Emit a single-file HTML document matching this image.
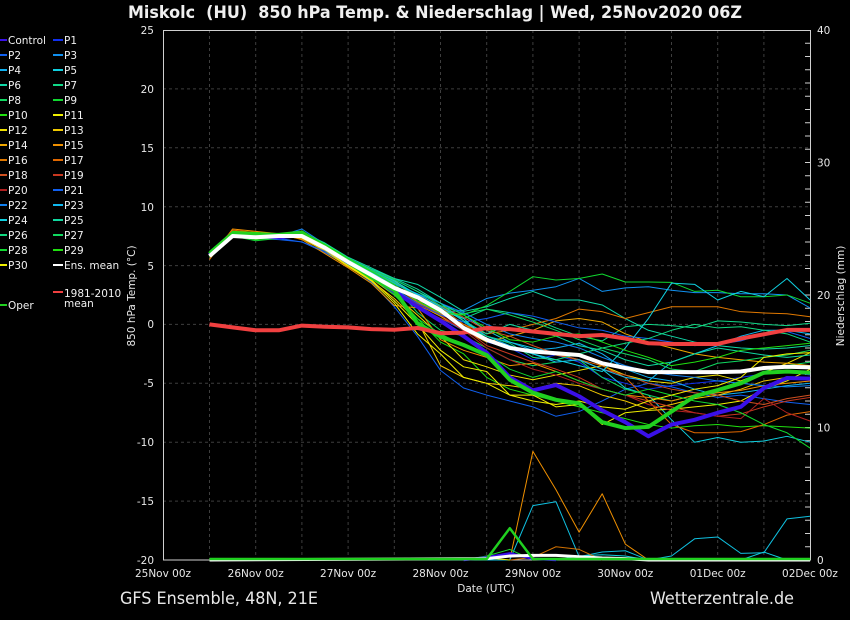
<!DOCTYPE html>
<html><head><meta charset="utf-8">
<style>html,body{margin:0;padding:0;background:#000;}svg{display:block}</style>
</head><body>
<svg width="850" height="620" viewBox="0 0 850 620" xmlns="http://www.w3.org/2000/svg" font-family="'DejaVu Sans','Liberation Sans',sans-serif">
<rect width="850" height="620" fill="#000"/>
<text x="128" y="18" font-size="16.5" font-weight="bold" fill="#f0f0f0" style="white-space:pre" xml:space="preserve" textLength="614" lengthAdjust="spacingAndGlyphs">Miskolc  (HU)  850 hPa Temp. &amp; Niederschlag | Wed, 25Nov2020 06Z</text>

<!-- grid -->
<g stroke="#3e3e3e" stroke-width="1" stroke-dasharray="3,3" fill="none">
<path d="M163 88.9H810M163 147.8H810M163 206.7H810M163 265.6H810M163 324.4H810M163 383.3H810M163 442.2H810M163 501.1H810"/>
<path d="M209.5 30V560M255.7 30V560M301.9 30V560M348.1 30V560M394.3 30V560M440.5 30V560M486.7 30V560M532.9 30V560M579.1 30V560M625.3 30V560M671.5 30V560M717.7 30V560M763.9 30V560"/>
</g>

<!-- frame -->
<rect x="163.5" y="30.5" width="647" height="529.5" fill="none" stroke="#d0d0d0" stroke-width="1"/>
<path stroke="#d0d0d0" stroke-width="1" fill="none" d="M805 30.5H811M805 43.25H811M805 56.5H811M805 69.75H811M805 83H811M805 96.25H811M805 109.5H811M805 122.75H811M805 136H811M805 149.25H811M805 162.5H811M805 175.75H811M805 189H811M805 202.25H811M805 215.5H811M805 228.75H811M805 242H811M805 255.25H811M805 268.5H811M805 281.75H811M805 295H811M805 308.25H811M805 321.5H811M805 334.75H811M805 348H811M805 361.25H811M805 374.5H811M805 387.75H811M805 401H811M805 414.25H811M805 427.5H811M805 440.75H811M805 454H811M805 467.25H811M805 480.5H811M805 493.75H811M805 507H811M805 520.25H811M805 533.5H811M805 546.75H811"/>

<!-- left tick labels -->
<g font-size="10.5" fill="#e8e8e8" text-anchor="end">
<text x="154" y="34">25</text>
<text x="154" y="93">20</text>
<text x="154" y="152">15</text>
<text x="154" y="211">10</text>
<text x="154" y="270">5</text>
<text x="154" y="328">0</text>
<text x="154" y="387">-5</text>
<text x="154" y="446">-10</text>
<text x="154" y="505">-15</text>
<text x="154" y="564">-20</text>
</g>
<g font-size="10.5" fill="#e8e8e8" text-anchor="start">
<text x="817" y="34">40</text>
<text x="817" y="166.5">30</text>
<text x="817" y="299">20</text>
<text x="817" y="431.5">10</text>
<text x="817" y="564">0</text>
</g>
<g font-size="10.5" fill="#e8e8e8" text-anchor="middle">
<text x="163" y="577">25Nov 00z</text>
<text x="255.7" y="577">26Nov 00z</text>
<text x="348.1" y="577">27Nov 00z</text>
<text x="440.5" y="577">28Nov 00z</text>
<text x="532.9" y="577">29Nov 00z</text>
<text x="625.3" y="577">30Nov 00z</text>
<text x="717.7" y="577">01Dec 00z</text>
<text x="810" y="577">02Dec 00z</text>
<text x="486" y="592">Date (UTC)</text>
<text transform="translate(135 296) rotate(-90)">850 hPa Temp. (°C)</text>
<text transform="translate(844 296) rotate(-90)">Niederschlag (mm)</text>
</g>

<!-- precipitation -->
<g transform="translate(209.5 560) scale(23.1 -13.25)" fill="none" stroke-linejoin="round">
<polyline vector-effect="non-scaling-stroke" stroke="#f09000" stroke-width="1" points="0,0 13,0 14,8.2 15,5.3 16,2.1 17,5 18,1.2 19,0 26,0"/>
<polyline vector-effect="non-scaling-stroke" stroke="#10c0e0" stroke-width="1" points="0,0 13,0 14,4.1 15,4.4 16,0.25 17,0.6 18,0.7 19,0 20,0.3 21,1.6 22,1.74 23,0.5 24,0.55 25,3.1 26,3.3"/>
<polyline vector-effect="non-scaling-stroke" stroke="#10d0e0" stroke-width="1" points="15,0 16,0.3 17,0.4 18,0.3 19,0 23,0 24,0.6 25,0 26,0"/>
<polyline vector-effect="non-scaling-stroke" stroke="#d07000" stroke-width="1" points="13,0 14,0.2 15,1 16,0.8 17,0"/>
<polyline vector-effect="non-scaling-stroke" stroke="#20d830" stroke-width="1" points="11,0 12,0.3 13,0.8 14,0"/>
<polyline vector-effect="non-scaling-stroke" stroke="#f0f000" stroke-width="1" points="11,0 12,0.15 13,0"/>
<polyline vector-effect="non-scaling-stroke" stroke="#3a10e8" stroke-width="2.5" points="11,0 12,0.2 13,0.5 14,0.1 15,0"/>
<polyline vector-effect="non-scaling-stroke" stroke="#ffffff" stroke-width="3" points="0,0 12,0.1 13,0.3 14,0.35 15,0.35 16,0.25 17,0.15 18,0.1 19,0 26,0"/>
<polyline vector-effect="non-scaling-stroke" stroke="#20d020" stroke-width="2.5" points="0,0.08 12,0.08 13,2.4 14,0.08 26,0.08"/>
</g>

<!-- temperature members -->
<g transform="translate(209.5 324.4) scale(23.1 -11.78)" fill="none" stroke-linejoin="round" stroke-width="1">
<polyline vector-effect="non-scaling-stroke" stroke="#1030f0" points="0,6 1,7.8 2,7.6 3,7.4 4,7.8 5,6.4 6,5.2 7,4 8,2.8 9,1.5 10,0.5 11,-0.5 12,-1.5 13,-2 14,-3 15,-2.6 16,-3.2 17,-4.5 18,-5 19,-5.5 20,-5.2 21,-5 22,-4.8 23,-4.5 24,-4.2 25,-4 26,-4.3"/>
<polyline vector-effect="non-scaling-stroke" stroke="#1060f0" points="0,5.9 1,7.5 2,7.3 3,7.2 4,7 5,6.1 6,5 7,3.6 8,1.5 9,-1 10,-3.9 11,-5.4 12,-6 13,-6.5 14,-7 15,-7.8 16,-7.4 17,-6.5 18,-5.5 19,-5 20,-5.3 21,-5.8 22,-6.2 23,-6 24,-6.3 25,-6.6 26,-6.8"/>
<polyline vector-effect="non-scaling-stroke" stroke="#1090f0" points="0,5.8 1,7.6 2,7.5 3,7.4 4,7.6 5,6.5 6,5.2 7,4.1 8,2.8 9,1.5 10,1 11,1.2 12,2.2 13,2.65 14,2.9 15,3.2 16,3.9 17,2.8 18,3.1 19,3.2 20,2.9 21,2.7 22,2.7 23,2.6 24,2.6 25,2.5 26,1.4"/>
<polyline vector-effect="non-scaling-stroke" stroke="#10b0f0" points="0,5.7 1,7.4 2,7.5 3,7.5 4,7.7 5,6.6 6,5.4 7,4.3 8,3.2 9,2 10,1 11,0.2 12,-1 13,-1.5 14,-2.2 15,-2 16,-1.6 17,-2.5 18,-3.8 19,-4.5 20,-4.8 21,-5.5 22,-6 23,-5.8 24,-5.5 25,-5.2 26,-5"/>
<polyline vector-effect="non-scaling-stroke" stroke="#10d0e0" points="0,5.6 1,7.5 2,7.6 3,7.6 4,7.9 5,6.8 6,5.5 7,4.6 8,3.8 9,2.8 10,1.8 11,0.8 12,-0.5 13,-1.5 14,-2 15,-2.5 16,-3 17,-3.8 18,-5.4 19,-6 20,-8.1 21,-10 22,-9.6 23,-10 24,-9.9 25,-9.5 26,-10"/>
<polyline vector-effect="non-scaling-stroke" stroke="#10d8a8" points="0,6.1 1,7.9 2,7.7 3,7.6 4,7.8 5,6.9 6,5.6 7,4.7 8,3.9 9,3.4 10,2.3 11,1.1 12,1.5 13,2.2 14,2.8 15,2.07 16,2.07 17,1.65 18,0.5 19,-0.5 20,-1 21,-1.5 22,-1.8 23,-2 24,-2.1 25,-2 26,-1.8"/>
<polyline vector-effect="non-scaling-stroke" stroke="#10d888" points="0,5.9 1,7.7 2,7.6 3,7.5 4,7.8 5,6.7 6,5.5 7,4.5 8,3.5 9,2.4 10,1.5 11,0.5 12,1.3 13,1 14,0.5 15,-0.3 16,-1 17,-1.4 18,-0.2 19,0 20,-0.1 21,-0.3 22,0.3 23,0.2 24,0 25,-0.1 26,0.1"/>
<polyline vector-effect="non-scaling-stroke" stroke="#10d860" points="0,5.8 1,7.6 2,7.4 3,7.5 4,7.6 5,6.6 6,5.4 7,4.4 8,3.3 9,1 10,-0.5 11,-1 12,-2 13,-3 14,-3.5 15,-3.2 16,-3 17,-4.5 18,-5.5 19,-6 20,-6.5 21,-6 22,-5.5 23,-4.8 24,-4 25,-3.5 26,-3.2"/>
<polyline vector-effect="non-scaling-stroke" stroke="#10d830" points="0,6.2 1,7.9 2,7.8 3,7.6 4,7.9 5,6.7 6,5.4 7,4.2 8,3 9,1.8 10,1.2 11,0.8 12,1.6 13,2.8 14,4.05 15,3.77 16,3.9 17,4.28 18,3.6 19,3.6 20,3.57 21,2.8 22,2.9 23,2.35 24,2.35 25,2.5 26,1.8"/>
<polyline vector-effect="non-scaling-stroke" stroke="#20e010" points="0,5.8 1,7.6 2,7.2 3,7.4 4,7.6 5,6.4 6,5.2 7,4 8,2.6 9,0.5 10,-1.5 11,-2.5 12,-4.5 13,-5.5 14,-6 15,-6.5 16,-7 17,-7.5 18,-8 19,-8.5 20,-8.8 21,-8.6 22,-8.5 23,-8.7 24,-8.6 25,-8.7 26,-8.8"/>
<polyline vector-effect="non-scaling-stroke" stroke="#f0f000" points="0,5.7 1,7.5 2,7.5 3,7.5 4,7.4 5,6.3 6,5 7,3.8 8,2 9,0 10,-2.2 11,-3.6 12,-4 13,-6 14,-6 15,-7 16,-6.8 17,-8.5 18,-7.5 19,-7.3 20,-7.2 21,-7 22,-6.8 23,-6.5 24,-5.5 25,-4.8 26,-3.8"/>
<polyline vector-effect="non-scaling-stroke" stroke="#f0e000" points="0,5.9 1,7.6 2,7.5 3,7.6 4,7.5 5,6.3 6,5 7,3.9 8,2.5 9,0.8 10,-1 11,-3 12,-3.6 13,-4.3 14,-4.7 15,-4.3 16,-3.9 17,-3.5 18,-4.3 19,-4.8 20,-5 21,-4.5 22,-4.3 23,-4.8 24,-4.1 25,-3.3 26,-2.4"/>
<polyline vector-effect="non-scaling-stroke" stroke="#f0c800" points="0,5.8 1,7.7 2,7.6 3,7.5 4,7.3 5,6.2 6,4.9 7,3.7 8,2.2 9,0.3 10,-3.5 11,-4.5 12,-5 13,-5.2 14,-5.5 15,-5 16,-5.2 17,-6 18,-6.5 19,-7.2 20,-6.8 21,-6.3 22,-6 23,-5.5 24,-4.8 25,-4.5 26,-4.5"/>
<polyline vector-effect="non-scaling-stroke" stroke="#f0a800" points="0,5.7 1,7.6 2,7.5 3,7.4 4,7.5 5,6.4 6,5.1 7,4 8,2.9 9,1.7 10,0.7 11,-0.5 12,-1.5 13,-1 14,-0.5 15,0.3 16,0.5 17,0.2 18,-0.8 19,-1.5 20,-2 21,-2.5 22,-2.8 23,-3 24,-3.2 25,-3.3 26,-3.5"/>
<polyline vector-effect="non-scaling-stroke" stroke="#f09000" points="0,5.5 1,8.1 2,7.9 3,7.7 4,7.2 5,6 6,4.8 7,3.5 8,1.6 9,1.4 10,-1.3 11,-2.2 12,-2.8 13,-3.5 14,-3.3 15,-4 16,-4.8 17,-5.5 18,-6 19,-6.2 20,-6.5 21,-6 22,-5.8 23,-5.6 24,-5.2 25,-5 26,-4.8"/>
<polyline vector-effect="non-scaling-stroke" stroke="#e07800" points="0,5.8 1,7.9 2,7.8 3,7.6 4,7.5 5,6.6 6,5.4 7,4.3 8,3.2 9,1.9 10,0.9 11,0 12,-0.8 13,-0.5 14,0 15,0.5 16,1.3 17,1.08 18,0.5 19,1 20,1.5 21,1.5 22,1.5 23,1.08 24,0.97 25,0.9 26,0.65"/>
<polyline vector-effect="non-scaling-stroke" stroke="#e06800" points="0,5.9 1,8 2,7.8 3,7.6 4,7.6 5,6.7 6,5.6 7,4.6 8,3.8 9,2 10,1.5 11,0 12,-1.2 13,-2 14,-2.3 15,-2.6 16,-3 17,-3.5 18,-4.5 19,-6.5 20,-8.5 21,-9.2 22,-9.2 23,-9.1 24,-8.5 25,-7.7 26,-7.4"/>
<polyline vector-effect="non-scaling-stroke" stroke="#d05020" points="0,6 1,7.9 2,7.7 3,7.5 4,7.7 5,6.8 6,5.6 7,4.5 8,3.6 9,2.5 10,1.6 11,0.6 12,-0.5 13,-1 14,-1.8 15,-2.5 16,-3 17,-3.8 18,-4.3 19,-5 20,-5.5 21,-5.8 22,-6 23,-6.5 24,-6.8 25,-6.3 26,-6"/>
<polyline vector-effect="non-scaling-stroke" stroke="#c83820" points="0,5.6 1,7.8 2,7.7 3,7.5 4,7.4 5,6.5 6,5.3 7,4.2 8,3.1 9,1.5 10,0.5 11,-0.3 12,-1.8 13,-2.5 14,-3.2 15,-3.8 16,-4.5 17,-5.5 18,-6 19,-6.5 20,-7 21,-7.5 22,-7.8 23,-7.6 24,-7 25,-6.5 26,-6.2"/>
<polyline vector-effect="non-scaling-stroke" stroke="#b02020" points="0,5.7 1,7.7 2,7.6 3,7.5 4,7.5 5,6.5 6,5.3 7,4.1 8,3 9,1.7 10,0.8 11,-0.5 12,-2 13,-3 14,-3.8 15,-4.3 16,-5 17,-5.5 18,-6 19,-6.8 20,-7.3 21,-7.5 22,-7.8 23,-8 24,-6.3 25,-7.5 26,-8.2"/>
<polyline vector-effect="non-scaling-stroke" stroke="#1060f0" points="0,5.8 1,7.5 2,7.4 3,7.3 4,7 5,6.2 6,5.1 7,4 8,3 9,1.8 10,0.8 11,0.2 12,0.5 13,1 14,0.7 15,0.2 16,-0.3 17,-0.5 18,-1 19,-1.2 20,-1.5 21,-1.8 22,-1.7 23,-1.4 24,-0.8 25,-0.6 26,-1.2"/>
<polyline vector-effect="non-scaling-stroke" stroke="#1080f0" points="0,6 1,7.6 2,7.5 3,7.5 4,8.1 5,6.8 6,5.5 7,4.4 8,3.4 9,2.6 10,1.8 11,1 12,0 13,-0.8 14,-1.2 15,-1.5 16,-2 17,-2.8 18,-3.5 19,-4 20,-4.3 21,-4.5 22,-4.8 23,-5 24,-5.2 25,-5.3 26,-5.2"/>
<polyline vector-effect="non-scaling-stroke" stroke="#10b8f0" points="0,5.9 1,7.7 2,7.6 3,7.5 4,7.6 5,6.7 6,5.4 7,4.4 8,3.5 9,2.6 10,1.5 11,0.3 12,-1 13,-1.8 14,-2.5 15,-3.2 16,-3 17,-3.8 18,-4.5 19,-4.8 20,-3.2 21,-2.5 22,-1.8 23,-1 24,-0.5 25,-0.5 26,-0.8"/>
<polyline vector-effect="non-scaling-stroke" stroke="#10d0e0" points="0,5.8 1,7.6 2,7.5 3,7.4 4,7.7 5,6.8 6,5.6 7,4.6 8,3.7 9,2.5 10,1.2 11,0.5 12,-1.3 13,-2 14,-2.5 15,-3 16,-3.5 17,-4 18,-2 19,0.5 20,3.5 21,3.4 22,2.07 23,2.8 24,2.35 25,3.9 26,2.07"/>
<polyline vector-effect="non-scaling-stroke" stroke="#10d8a0" points="0,6.1 1,7.8 2,7.7 3,7.6 4,7.8 5,6.9 6,5.7 7,4.8 8,3.9 9,3 10,1.8 11,0.3 12,-0.8 13,0 14,-0.5 15,-1 16,-1.8 17,-2.2 18,-3 19,-3.5 20,-3.2 21,-2.5 22,-2 23,-2.3 24,-2.6 25,-2.8 26,-2.6"/>
<polyline vector-effect="non-scaling-stroke" stroke="#10d880" points="0,5.9 1,7.7 2,7.6 3,7.5 4,7.7 5,6.7 6,5.5 7,4.5 8,3.6 9,2.3 10,1.4 11,-0.2 12,-1 13,-1.6 14,-2.8 15,-3 16,-2.5 17,-2 18,-1.6 19,-1.2 20,-0.5 21,0 22,-0.3 23,-0.2 24,-0.5 25,-0.8 26,-1.5"/>
<polyline vector-effect="non-scaling-stroke" stroke="#10d860" points="0,6 1,7.8 2,7.6 3,7.6 4,7.9 5,6.8 6,5.6 7,4.6 8,3.8 9,2.8 10,1.6 11,0.9 12,1.3 13,0.8 14,0.2 15,-0.5 16,-1.3 17,-2 18,-2.5 19,-3 20,-3.8 21,-4 22,-3.3 23,-3.1 24,-2.8 25,-2.6 26,-2.2"/>
<polyline vector-effect="non-scaling-stroke" stroke="#10d830" points="0,5.7 1,7.5 2,7.1 3,7.3 4,7.5 5,6.4 6,5.2 7,4 8,2.5 9,0.5 10,-0.8 11,-1.8 12,-2.5 13,-3.8 14,-4.5 15,-4 16,-4.8 17,-5.5 18,-6 19,-5.5 20,-6 21,-6.5 22,-6.8 23,-7.5 24,-8.5 25,-9.2 26,-10.5"/>
<polyline vector-effect="non-scaling-stroke" stroke="#20e010" points="0,6.1 1,7.9 2,7.8 3,7.7 4,7.8 5,6.8 6,5.6 7,4.5 8,3.4 9,2 10,1 11,0.8 12,-0.3 13,-1.3 14,-1.5 15,-1 16,-0.8 17,-1.5 18,-2.2 19,-2.8 20,-3.5 21,-3.2 22,-2.8 23,-2.2 24,-2 25,-1.8 26,-1.6"/>
<polyline vector-effect="non-scaling-stroke" stroke="#f0f000" points="0,5.8 1,7.6 2,7.5 3,7.5 4,7.4 5,6.3 6,5 7,3.7 8,1.8 9,-0.8 10,-2.5 11,-4.5 12,-5 13,-6 14,-6.5 15,-6.8 16,-6.5 17,-7 18,-7.2 19,-6.5 20,-6 21,-5.5 22,-5.2 23,-4.5 24,-2.8 25,-2.5 26,-2.4"/>

<!-- control, oper, climatology, mean -->
<polyline vector-effect="non-scaling-stroke" stroke="#3a10e8" stroke-width="4" points="0,5.9 1,7.6 2,7.5 3,7.4 4,7.6 5,6.5 6,5.3 7,4.1 8,2.8 9,1.5 10,0.3 11,-1 12,-2.4 13,-4.5 14,-5.6 15,-5.15 16,-6.1 17,-7.3 18,-8.3 19,-9.5 20,-8.5 21,-8.1 22,-7.5 23,-7 24,-5.4 25,-4.55 26,-4.6"/>
<polyline vector-effect="non-scaling-stroke" stroke="#20d020" stroke-width="4" points="0,6 1,7.7 2,7.6 3,7.6 4,7.8 5,6.6 6,5.3 7,4 8,2.9 9,0.1 10,-1.04 11,-1.75 12,-2.6 13,-4.7 14,-5.8 15,-6.4 16,-6.7 17,-8.3 18,-8.8 19,-8.7 20,-7.4 21,-6.1 22,-5.57 23,-5 24,-4.1 25,-4 26,-4.1"/>
<polyline vector-effect="non-scaling-stroke" stroke="#f04040" stroke-width="4" points="0,0 1,-0.25 2,-0.5 3,-0.5 4,-0.1 5,-0.2 6,-0.25 7,-0.4 8,-0.45 9,-0.3 10,-0.75 11,-0.7 12,-0.3 13,-0.4 14,-0.6 15,-0.8 16,-1 17,-0.9 18,-1.2 19,-1.6 20,-1.66 21,-1.66 22,-1.66 23,-1.2 24,-0.84 25,-0.47 26,-0.47"/>
<polyline vector-effect="non-scaling-stroke" stroke="#ffffff" stroke-width="4" points="0,5.8 1,7.5 2,7.4 3,7.5 4,7.5 5,6.5 6,5.3 7,4.2 8,3.1 9,2.3 10,1.2 11,-0.3 12,-1.3 13,-2 14,-2.3 15,-2.45 16,-2.6 17,-3.3 18,-3.7 19,-4.05 20,-4.05 21,-4.05 22,-4.05 23,-4 24,-3.7 25,-3.6 26,-3.65"/>
</g>

<!-- legend -->
<g stroke-width="2">
<path stroke="#3a10e8" d="M0 40H7"/><path stroke="#1060f0" d="M0 55H7"/><path stroke="#10b0f0" d="M0 70H7"/><path stroke="#10d8a8" d="M0 85H7"/><path stroke="#10d860" d="M0 100H7"/><path stroke="#20e010" d="M0 115H7"/><path stroke="#f0e000" d="M0 130H7"/><path stroke="#f0a800" d="M0 145H7"/><path stroke="#e07800" d="M0 160H7"/><path stroke="#d05020" d="M0 175H7"/><path stroke="#b02020" d="M0 190H7"/><path stroke="#1080f0" d="M0 205H7"/><path stroke="#10d0e0" d="M0 220H7"/><path stroke="#10d880" d="M0 235H7"/><path stroke="#10d830" d="M0 250H7"/><path stroke="#f0f000" d="M0 265H7"/><path stroke="#20d020" d="M0 305H7"/>
<path stroke="#1030f0" d="M53 40H63"/><path stroke="#1090f0" d="M53 55H63"/><path stroke="#10d0e0" d="M53 70H63"/><path stroke="#10d888" d="M53 85H63"/><path stroke="#10d830" d="M53 100H63"/><path stroke="#f0f000" d="M53 115H63"/><path stroke="#f0c800" d="M53 130H63"/><path stroke="#f09000" d="M53 145H63"/><path stroke="#e06800" d="M53 160H63"/><path stroke="#c83820" d="M53 175H63"/><path stroke="#1060f0" d="M53 190H63"/><path stroke="#10b8f0" d="M53 205H63"/><path stroke="#10d8a0" d="M53 220H63"/><path stroke="#10d860" d="M53 235H63"/><path stroke="#20e010" d="M53 250H63"/><path stroke="#ffffff" d="M53 265H63"/><path stroke="#f04040" d="M53 292H63"/>
</g>
<g font-size="10.5" fill="#f0f0f0">
<text x="8" y="44">Control</text><text x="8" y="59">P2</text><text x="8" y="74">P4</text><text x="8" y="89">P6</text><text x="8" y="104">P8</text><text x="8" y="119">P10</text><text x="8" y="134">P12</text><text x="8" y="149">P14</text><text x="8" y="164">P16</text><text x="8" y="179">P18</text><text x="8" y="194">P20</text><text x="8" y="209">P22</text><text x="8" y="224">P24</text><text x="8" y="239">P26</text><text x="8" y="254">P28</text><text x="8" y="269">P30</text><text x="8" y="309">Oper</text>
<text x="64" y="44">P1</text><text x="64" y="59">P3</text><text x="64" y="74">P5</text><text x="64" y="89">P7</text><text x="64" y="104">P9</text><text x="64" y="119">P11</text><text x="64" y="134">P13</text><text x="64" y="149">P15</text><text x="64" y="164">P17</text><text x="64" y="179">P19</text><text x="64" y="194">P21</text><text x="64" y="209">P23</text><text x="64" y="224">P25</text><text x="64" y="239">P27</text><text x="64" y="254">P29</text><text x="64" y="269">Ens. mean</text><text x="64" y="297">1981-2010</text><text x="64" y="307">mean</text>
</g>

<!-- footer -->
<text x="120" y="604" font-size="17" fill="#e8e8e8" textLength="198" lengthAdjust="spacingAndGlyphs">GFS Ensemble, 48N, 21E</text>
<text x="650" y="604" font-size="17" fill="#e8e8e8" textLength="144" lengthAdjust="spacingAndGlyphs">Wetterzentrale.de</text>
</svg>
</body></html>
